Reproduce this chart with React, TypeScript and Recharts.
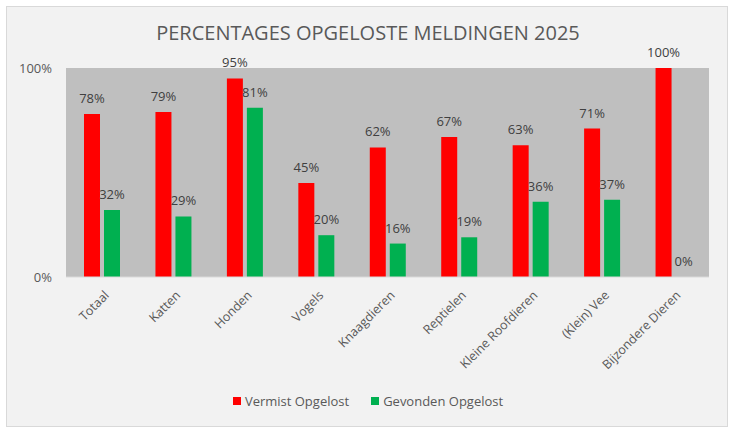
import { BarChart, Bar, XAxis, YAxis, CartesianGrid, LabelList } from "recharts";

const categories = [
  "Totaal",
  "Katten",
  "Honden",
  "Vogels",
  "Knaagdieren",
  "Reptielen",
  "Kleine Roofdieren",
  "(Klein) Vee",
  "Bijzondere Dieren",
];
const vermistOpgelost = [78, 79, 95, 45, 62, 67, 63, 71, 100];
const gevondenOpgelost = [32, 29, 81, 20, 16, 19, 36, 37, 0];
const yTicks = [0, 100];

const series = [
  { key: "vermist", name: "Vermist Opgelost", color: "#ff0000" },
  { key: "gevonden", name: "Gevonden Opgelost", color: "#00b050" },
];

const data = categories.map((name, i) => ({
  name,
  vermist: vermistOpgelost[i],
  gevonden: gevondenOpgelost[i],
}));

const FONT = "'Open Sans', sans-serif";
const TEXT = "#595959";

function AngledTick({ x, y, payload }: any) {
  return (
    <g transform={`translate(${x + 5},${y + 8})`}>
      <text
        x={0}
        y={0}
        dy="0.35em"
        textAnchor="end"
        transform="rotate(-45)"
        fill={TEXT}
        fontSize={12.5}
        fontFamily={FONT}
      >
        {payload.value}
      </text>
    </g>
  );
}

// labels drawn by hand so that a 0% bar still gets its label
function PctLabel({ x, y, width, value }: any) {
  return (
    <text
      x={x + width / 2}
      y={y - 11}
      textAnchor="middle"
      fill="#404040"
      fontSize={13}
      fontFamily={FONT}
    >
      {`${value}%`}
    </text>
  );
}

// a zero bar is dropped by recharts, so give it a hair of height to keep its label
const keepZero = (v: number) => (v === 0 ? 0.01 : 0);

export default function App() {
  return (
    <div style={{ position: "fixed", left: 0, top: 0, width: 736, height: 433, background: "#fff" }}>
      <div
        style={{
          position: "absolute",
          left: 6,
          top: 6,
          width: 720,
          height: 419,
          border: "1px solid #d9d9d9",
          background: "#f2f2f2",
        }}
      />
      <div
        style={{
          position: "absolute",
          left: 0,
          top: 19,
          width: 736,
          textAlign: "center",
          fontFamily: FONT,
          fontSize: 20,
          color: TEXT,
        }}
      >
        PERCENTAGES OPGELOSTE MELDINGEN 2025
      </div>
      <div style={{ position: "absolute", left: 0, top: 0 }}>
        <BarChart
          width={736}
          height={433}
          data={data}
          margin={{ top: 68, right: 27, left: 6, bottom: 0 }}
          barSize={16}
          barGap={4}
        >
          <CartesianGrid horizontal={false} vertical={false} fill="#bfbfbf" />
          <XAxis
            dataKey="name"
            interval={0}
            height={156}
            tick={<AngledTick />}
            tickLine={false}
            axisLine={{ stroke: "#d9d9d9" }}
          />
          <YAxis
            width={60}
            domain={[0, 100]}
            ticks={yTicks}
            tickFormatter={(v) => `${v}%`}
            axisLine={false}
            tickLine={false}
            tickSize={0}
            tickMargin={14}
            tick={{ fill: TEXT, fontSize: 13, fontFamily: FONT }}
          />
          {series.map((s) => (
            <Bar
              key={s.key}
              dataKey={s.key}
              name={s.name}
              fill={s.color}
              minPointSize={keepZero}
              isAnimationActive={false}
            >
              <LabelList dataKey={s.key} content={<PctLabel />} />
            </Bar>
          ))}
        </BarChart>
      </div>
      <div
        style={{
          position: "absolute",
          left: 0,
          top: 392,
          width: 736,
          display: "flex",
          justifyContent: "center",
          gap: 22,
          fontFamily: FONT,
          fontSize: 13,
          color: TEXT,
        }}
      >
        {series.map((s) => (
          <div key={s.key} style={{ display: "flex", alignItems: "center", gap: 4 }}>
            <span style={{ width: 8, height: 8, background: s.color, display: "inline-block" }} />
            <span>{s.name}</span>
          </div>
        ))}
      </div>
    </div>
  );
}
